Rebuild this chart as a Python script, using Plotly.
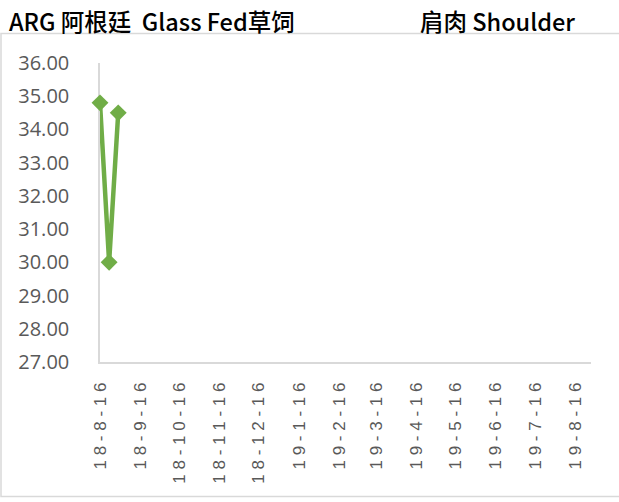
import plotly.graph_objects as go

dates = ["2018-08-16", "2018-08-23", "2018-08-30"]
prices = [34.80, 30.00, 34.50]

tick_dates = ["2018-08-16", "2018-09-16", "2018-10-16", "2018-11-16", "2018-12-16",
              "2019-01-16", "2019-02-16", "2019-03-16", "2019-04-16", "2019-05-16",
              "2019-06-16", "2019-07-16", "2019-08-16"]
tick_labels = ["18-8-16", "18-9-16", "18-10-16", "18-11-16", "18-12-16",
               "19-1-16", "19-2-16", "19-3-16", "19-4-16", "19-5-16",
               "19-6-16", "19-7-16", "19-8-16"]
y_ticks = [27, 28, 29, 30, 31, 32, 33, 34, 35, 36]

title_left = "ARG 阿根廷  Glass Fed草饲"
title_right = "肩肉 Shoulder"

spaced = [" ".join(list(t)) for t in tick_labels]

W, H = 619, 502
L, R, T, B = 100, 591, 63, 362

def px(x):
    return (x - L) / (R - L)

def py(y):
    return (B - y) / (B - T)

fig = go.Figure()
fig.add_trace(go.Scatter(
    x=dates, y=prices, mode="lines+markers",
    line=dict(color="#70AD47", width=4.5),
    marker=dict(symbol="diamond", size=13, color="#70AD47"),
    showlegend=False, hoverinfo="skip", cliponaxis=False,
))

fig.update_layout(
    width=W, height=H,
    margin=dict(l=L, r=W - R, t=T, b=H - B, pad=0),
    paper_bgcolor="white", plot_bgcolor="white",
    xaxis=dict(
        type="date", range=["2018-08-16", "2019-08-28"],
        tickvals=tick_dates, ticktext=spaced, tickangle=-90,
        showgrid=False, zeroline=False, showline=True,
        linecolor="#D9D9D9", linewidth=1.5, layer="below traces",
        ticks="outside", ticklen=12, tickcolor="rgba(0,0,0,0)",
        automargin=False,
        tickfont=dict(family="Liberation Sans, Arial", size=17, color="#595959"),
    ),
    yaxis=dict(
        range=[27, 36], tickvals=y_ticks,
        tickformat=".2f",
        showgrid=False, zeroline=False, showline=True,
        linecolor="#D9D9D9", linewidth=1.5, layer="below traces",
        ticks="outside", ticklen=25, tickcolor="rgba(0,0,0,0)",
        automargin=False,
        tickfont=dict(family="Open Sans, Noto Sans", size=20, color="#595959"),
    ),
    shapes=[
        dict(type="rect", xref="paper", yref="paper",
             x0=px(1), x1=px(640), y0=py(496.5), y1=py(33.5),
             line=dict(color="#D9D9D9", width=1.5), fillcolor="rgba(0,0,0,0)",
             layer="below"),
    ],
    annotations=[
        dict(text=title_left, xref="paper", yref="paper", x=px(7), y=py(21),
             xanchor="left", yanchor="middle", showarrow=False,
             font=dict(family="Noto Sans CJK SC", size=23.5, color="black", weight=500)),
        dict(text=title_right, xref="paper", yref="paper", x=px(418), y=py(21),
             xanchor="left", yanchor="middle", showarrow=False,
             font=dict(family="Noto Sans CJK SC", size=23.5, color="black", weight=500)),
    ],
)

fig.write_html("out.html", config={"displayModeBar": False},
               post_script="document.body.style.margin='0';")
